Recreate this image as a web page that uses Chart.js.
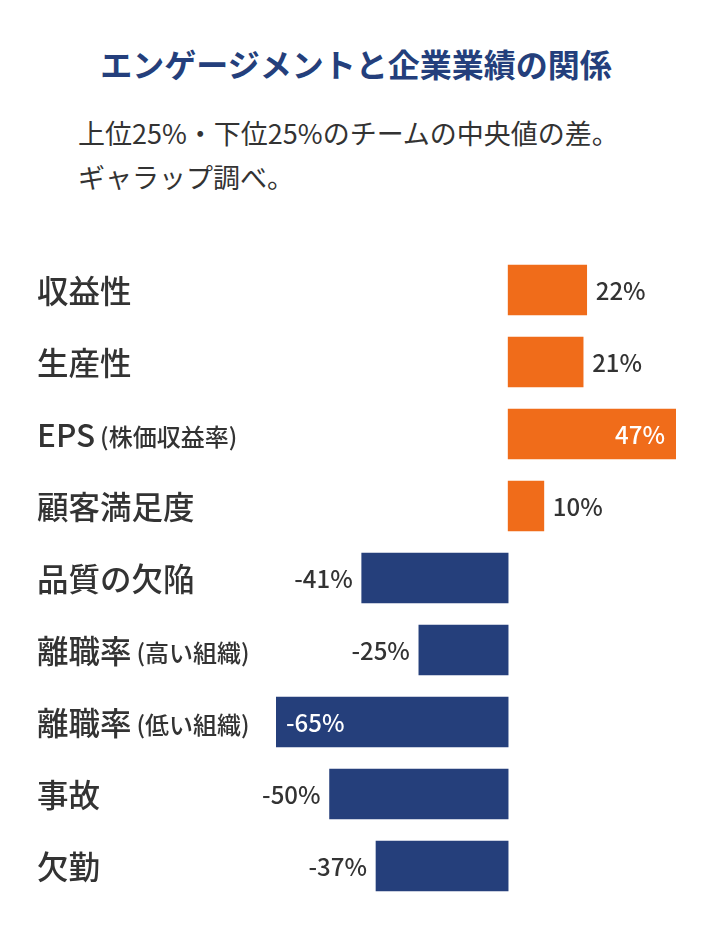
<!DOCTYPE html>
<html lang="ja">
<head>
<meta charset="utf-8">
<script src="https://cdn.jsdelivr.net/npm/chart.js@4"></script>
<style>
  html, body { margin:0; padding:0; background:#fff; }
  body { width:712px; height:930px; position:relative; overflow:hidden; font-family:"Noto Sans CJK JP", "Noto Sans", sans-serif; }
  .title { position:absolute; top:40px; left:0; width:712px; text-align:center; font-size:32px; font-weight:700; color:#243f7c; }
  .sub { position:absolute; top:111px; left:78px; font-size:27px; line-height:44px; color:#333; }
  .wrap { position:absolute; left:0; top:0; width:712px; height:930px; }
</style>
</head>
<body>
<div class="title">エンゲージメントと企業業績の関係</div>
<div class="sub">上位25%・下位25%のチームの中央値の差。<br>ギャラップ調べ。</div>
<div class="wrap"><canvas id="chart"></canvas></div>
<script>
// 項目名（括弧内は小さい文字で描く）
const labelsMain = ['収益性','生産性','EPS','顧客満足度','品質の欠陥','離職率','離職率','事故','欠勤'];
const labelsNote = ['','','(株価収益率)','','','(高い組織)','(低い組織)','',''];
const values = [22, 21, 47, 10, -41, -25, -65, -50, -37];

const ORANGE = '#f06c1a', NAVY = '#253f7b', TEXT = '#333333';
const FONT = '"Noto Sans CJK JP", "Noto Sans", sans-serif';

const maxV = Math.max(...values), minV = Math.min(...values);

// 左の項目名と、棒の値ラベルを描く
const labelPlugin = {
  id:'labels',
  afterDatasetsDraw(chart){
    const {ctx} = chart;
    const y = chart.scales.y;
    const meta = chart.getDatasetMeta(0);
    ctx.save();
    ctx.textBaseline = 'middle';
    labelsMain.forEach((t, i)=>{
      const py = y.getPixelForValue(i);
      ctx.textAlign = 'left';
      ctx.fillStyle = TEXT;
      ctx.font = '500 31.5px ' + FONT;
      ctx.fillText(t, 37, py + 1);
      if(labelsNote[i]){
        const w = ctx.measureText(t).width;
        ctx.font = '500 24px ' + FONT;
        ctx.fillText(labelsNote[i], 37 + w + 5, py + 3);
      }
    });
    ctx.font = '500 24px ' + FONT;
    meta.data.forEach((bar, i)=>{
      const v = values[i];
      const txt = v + '%';
      const inside = (v === maxV || v === minV);
      if(v >= 0){
        if(inside){ ctx.textAlign='right'; ctx.fillStyle='#fff'; ctx.fillText(txt, bar.x - 11, bar.y + 1); }
        else { ctx.textAlign='left'; ctx.fillStyle=TEXT; ctx.fillText(txt, bar.x + 9, bar.y + 1); }
      } else {
        if(inside){ ctx.textAlign='left'; ctx.fillStyle='#fff'; ctx.fillText(txt, bar.x + 10, bar.y + 1); }
        else { ctx.textAlign='right'; ctx.fillStyle=TEXT; ctx.fillText(txt, bar.x - 9, bar.y + 1); }
      }
    });
    ctx.restore();
  }
};

new Chart(document.getElementById('chart'), {
  type:'bar',
  data:{
    labels: labelsMain.map((t,i)=> t + labelsNote[i]),
    datasets:[{
      data: values,
      backgroundColor: values.map(v=> v >= 0 ? ORANGE : NAVY),
      borderWidth:0,
      barThickness:50
    }]
  },
  options:{
    indexAxis:'y',
    responsive:true, maintainAspectRatio:false,
    animation:false,
    layout:{ padding:{ left:276, right:36, top:254, bottom:28 } },
    scales:{
      x:{ display:false, min:-65, max:47 },
      y:{ display:false }
    },
    plugins:{ legend:{ display:false }, tooltip:{ enabled:false } }
  },
  plugins:[labelPlugin]
});
</script>
</body>
</html>
